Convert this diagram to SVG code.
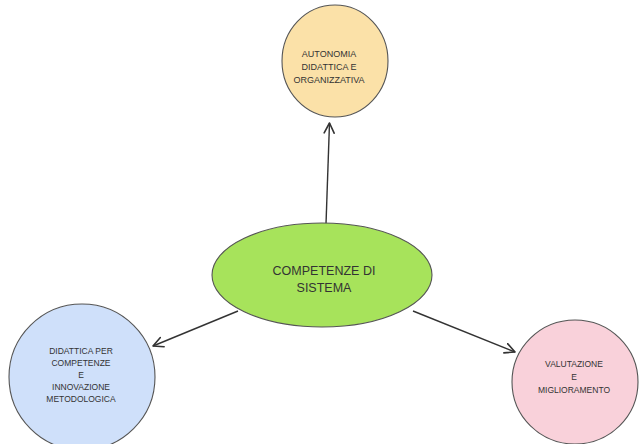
<svg xmlns="http://www.w3.org/2000/svg" width="639" height="444" viewBox="0 0 639 444">
<style>
.node { stroke: #555; stroke-width: 1.1; }
.lbl { font-family: "Liberation Sans", Arial, sans-serif; fill: #333; text-anchor: middle; dominant-baseline: central; }
.conn { stroke: #333; stroke-width: 1.4; fill: none; marker-end: url(#arr); }
</style>
<defs>
<marker id="arr" viewBox="0 0 12 12" refX="11" refY="6" markerWidth="12" markerHeight="12" markerUnits="userSpaceOnUse" orient="auto">
<path d="M1,1 L11,6 L1,11" fill="none" stroke="#333" stroke-width="1.6" stroke-linecap="round" stroke-linejoin="round"/>
</marker>
</defs>
<rect width="639" height="444" fill="#ffffff"/>
<g id="connectors">
<line class="conn" x1="326" y1="224" x2="329.5" y2="123"/>
<line class="conn" x1="238" y1="311" x2="153" y2="346"/>
<line class="conn" x1="413" y1="311" x2="515" y2="352"/>
</g>
<g id="node-top">
<ellipse class="node" cx="335" cy="61" rx="53" ry="56" fill="#FBE1A8"/>
<text class="lbl" font-size="9" x="329" y="54">AUTONOMIA</text>
<text class="lbl" font-size="9" x="329" y="67">DIDATTICA E</text>
<text class="lbl" font-size="9" x="329" y="80">ORGANIZZATIVA</text>
</g>
<g id="node-center">
<ellipse class="node" cx="322" cy="275" rx="110" ry="52" fill="#A7E35B"/>
<text class="lbl" font-size="12.5" x="324" y="271">COMPETENZE DI</text>
<text class="lbl" font-size="12.5" x="324" y="288">SISTEMA</text>
</g>
<g id="node-left">
<ellipse class="node" cx="82" cy="377" rx="73" ry="73" fill="#CFE0FA"/>
<text class="lbl" font-size="8.5" x="81" y="351">DIDATTICA PER</text>
<text class="lbl" font-size="8.5" x="81" y="363">COMPETENZE</text>
<text class="lbl" font-size="8.5" x="81" y="375">E</text>
<text class="lbl" font-size="8.5" x="81" y="387">INNOVAZIONE</text>
<text class="lbl" font-size="8.5" x="81" y="399">METODOLOGICA</text>
</g>
<g id="node-right">
<ellipse class="node" cx="575" cy="382" rx="63" ry="62" fill="#F9D1DA"/>
<text class="lbl" font-size="8.5" x="574" y="364">VALUTAZIONE</text>
<text class="lbl" font-size="8.5" x="574" y="377">E</text>
<text class="lbl" font-size="8.5" x="574" y="390">MIGLIORAMENTO</text>
</g>
</svg>
